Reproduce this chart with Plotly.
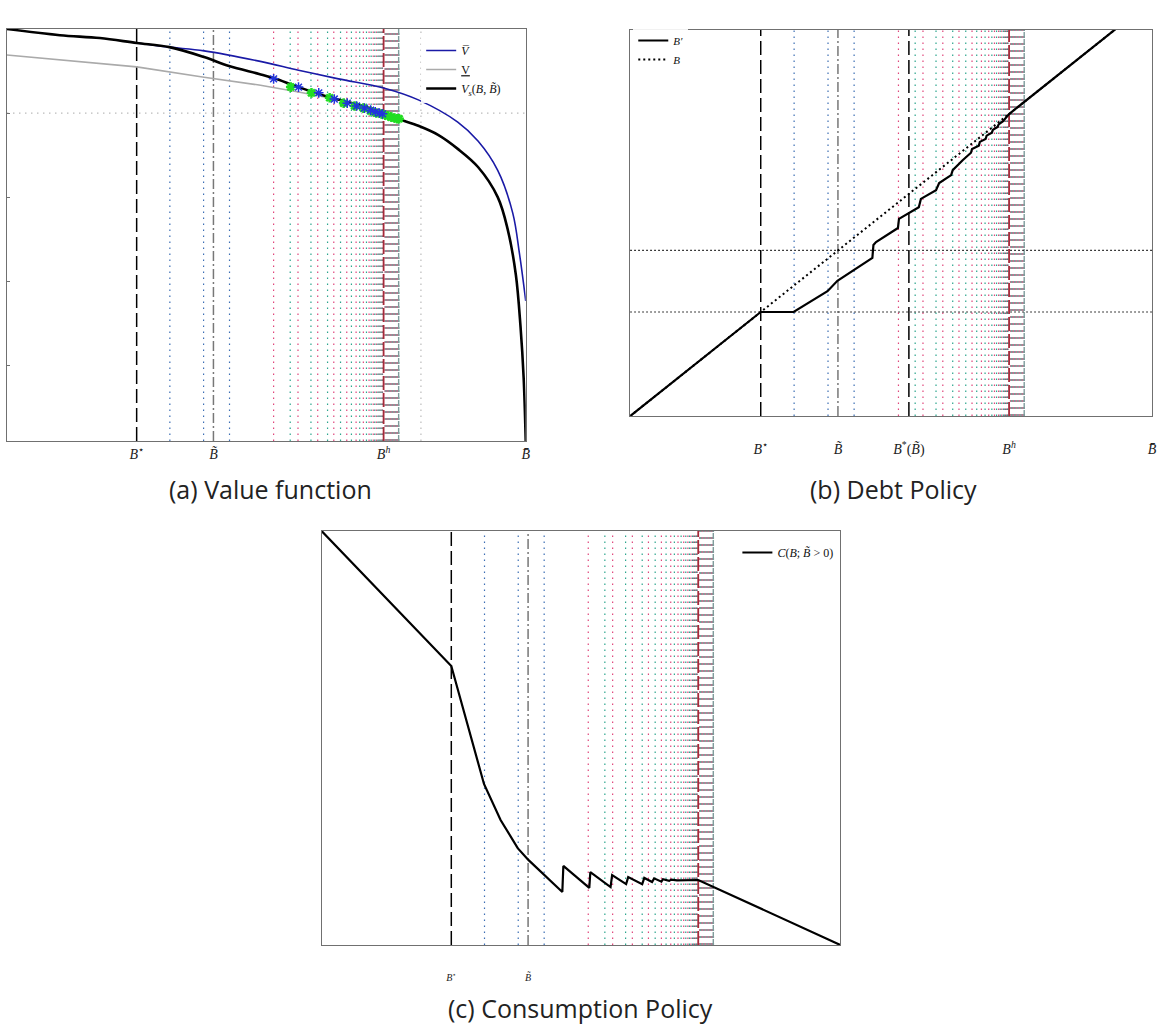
import plotly.graph_objects as go

# ---------------- key debt levels (B in units: 0 = lower bound, 100 = B_bar)
B_star = 25.0
B_tilde = 39.8
B_star_of_tilde = 53.4
B_h = 72.6
B_bar = 100.0

# vertical reference lines (iterates of the debt policy)
vl_blue = [31.4, 37.9, 42.9]
vl_pink = [51.4, 56.1, 59.9, 63.0, 65.5, 67.3, 68.7, 69.8, 70.6, 71.2, 71.7, 72.1, 72.4]
vl_teal = [54.6, 58.6, 61.8, 64.3, 66.4, 68.0, 69.3, 70.2, 70.9, 71.5, 71.9, 72.3]
vl_comb = [72.9, 73.1, 73.3, 73.5, 73.7, 73.9, 74.1, 74.3, 74.5, 74.7, 74.9, 75.1, 75.3, 75.5]
vl_gray_a = [79.8]

# ---------------- (a) value functions
B_vs = [0.0, 10.2, 17.9, 25.0, 31.3, 38.0, 42.8, 48.6, 51.4, 56.2, 62.0, 67.8, 72.6, 75.4,
        79.3, 83.1, 86.9, 90.8, 94.6, 96.5, 98.1, 99.0, 99.6, 100.0]
V_s = [100.0, 98.5, 97.8, 96.6, 95.6, 93.2, 91.0, 89.1, 88.1, 85.9, 83.5, 81.6, 79.6, 78.2,
       76.5, 74.3, 70.9, 66.5, 59.2, 51.5, 40.3, 27.7, 15.3, 0.0]
B_vbar = [25.0, 31.3, 38.0, 48.6, 56.2, 63.9, 72.6, 79.3, 86.9, 90.8, 94.6, 97.5, 98.8, 100.0]
V_bar = [96.6, 95.6, 94.7, 92.2, 90.0, 87.9, 85.7, 82.8, 77.4, 72.8, 65.7, 55.3, 45.4, 34.0]
B_vlow = [0.0, 10.2, 25.0, 38.0, 48.6, 56.2, 62.0]
V_low = [93.7, 92.5, 90.8, 88.3, 86.4, 84.7, 83.3]

star_blue_B = [51.4, 56.2, 60.1, 63.1, 65.6, 67.4, 68.9, 70.1, 71.0, 71.8, 72.4]
star_blue_V = [87.9, 85.9, 84.5, 83.0, 82.0, 81.3, 80.8, 80.3, 79.9, 79.6, 79.4]
star_green_B = [54.7, 58.7, 62.2, 64.9, 67.0, 68.7, 70.1, 71.2, 72.2, 72.9, 73.5, 74.1, 74.7, 75.2, 75.6]
star_green_V = [85.9, 84.5, 83.3, 82.0, 81.3, 80.8, 80.1, 79.6, 79.4, 79.1, 78.9, 78.6, 78.4, 78.2, 78.2]
V_at_Bh = 79.6
a_yticks = [79.6, 59.2, 38.8, 18.4]

# ---------------- (b) debt policy
B_pol = [0.0, 25.0, 31.3, 37.8, 39.7, 46.4, 46.6, 47.1, 51.3, 51.5, 55.3, 55.7, 58.6, 59.2, 61.5,
         61.8, 63.7, 65.3, 65.5, 66.8, 67.0, 68.1, 68.3, 69.3, 69.5, 70.4, 70.6, 71.4, 72.6, 100.0]
Bprime = [0.0, 25.0, 25.0, 30.0, 32.5, 38.0, 41.1, 41.8, 45.2, 47.4, 50.2, 52.2, 54.3, 56.0, 57.9,
          59.1, 61.5, 63.3, 64.2, 65.0, 65.9, 66.6, 67.4, 68.1, 68.8, 69.5, 70.1, 70.8, 72.6, 100.0]
diag_B = [0.0, 100.0]
diag_Bp = [0.0, 100.0]

# ---------------- (c) consumption policy
B_c = [0.0, 25.0, 31.3, 34.5, 37.8, 39.9, 46.4, 46.6, 51.6, 51.8, 55.7, 56.0, 58.7, 59.1,
       61.8, 62.2, 63.7, 64.1, 65.5, 65.8, 67.0, 67.4, 68.5, 72.6, 100.0]
C_pol = [100.0, 67.4, 38.9, 30.2, 23.4, 20.5, 12.8, 19.1, 13.8, 17.6, 14.0, 16.9, 14.7, 16.4,
         14.7, 16.2, 15.2, 16.1, 15.3, 15.9, 15.5, 15.8, 15.6, 15.7, 0.0]

# ---------------- styles
PINK = "#e0457b"
TEAL = "#2ca58d"
BLUED = "#3c6eb4"
REDD = "#a52a3a"
COMB = ["#c9708f", "#6fa89a", "#a08595"]
FRAME = "#707070"
SERIF = "Liberation Serif, DejaVu Serif, serif"
SANS = "Open Sans, Noto Sans, sans-serif"
DOT = "1.5px,4.5px"

W = 1164
H = 1026


def X(px):
    return min(1.0, max(0.0, px / W))


def Y(py):
    return min(1.0, max(0.0, 1 - py / H))


fig = go.Figure()

# panel a traces
fig.add_trace(go.Scatter(x=B_vbar, y=V_bar, mode="lines", line=dict(color="#1a1aa6", width=1.6, shape="spline"),
                         name="<i>V̅</i>", legend="legend", xaxis="x", yaxis="y"))
fig.add_trace(go.Scatter(x=B_vlow, y=V_low, mode="lines", line=dict(color="#aaaaaa", width=1.6),
                         name="<u>V</u>", legend="legend", xaxis="x", yaxis="y"))
fig.add_trace(go.Scatter(x=B_vs, y=V_s, mode="lines", line=dict(color="black", width=2.6, shape="spline"),
                         name="<i>V<sub>s</sub></i>(<i>B</i>, <i>B̃</i>)", legend="legend",
                         xaxis="x", yaxis="y"))
fig.add_trace(go.Scatter(x=star_green_B, y=star_green_V, mode="markers",
                         marker=dict(symbol="asterisk-open", size=8, color="#22dd22", line=dict(color="#22dd22", width=2.5)),
                         showlegend=False, xaxis="x", yaxis="y"))
fig.add_trace(go.Scatter(x=star_blue_B, y=star_blue_V, mode="markers",
                         marker=dict(symbol="asterisk-open", size=8, color="#2233dd", line=dict(color="#2233dd", width=1.5)),
                         showlegend=False, xaxis="x", yaxis="y"))

# panel b traces
fig.add_trace(go.Scatter(x=B_pol, y=Bprime, mode="lines", line=dict(color="black", width=2.2),
                         name="<i>B′</i>", legend="legend2", xaxis="x2", yaxis="y2"))
fig.add_trace(go.Scatter(x=diag_B, y=diag_Bp, mode="lines", line=dict(color="black", width=2, dash="2px,3px"),
                         name="<i>B</i>", legend="legend2", xaxis="x2", yaxis="y2"))

# panel c traces
fig.add_trace(go.Scatter(x=B_c, y=C_pol, mode="lines", line=dict(color="black", width=2.2),
                         name="<i>C</i>(<i>B</i>; <i>B̃</i> > 0)", legend="legend3", xaxis="x3", yaxis="y3"))

shapes = []


def vline(x, color, dash, width, ax):
    shapes.append(dict(type="line", xref="x" + ax, yref=("y" + ax) + " domain", x0=x, x1=x, y0=0, y1=1,
                       line=dict(color=color, dash=dash, width=width), layer="below"))


def hline(y, color, dash, width, ax):
    shapes.append(dict(type="line", xref=("x" + ax) + " domain", yref="y" + ax, x0=0, x1=1, y0=y, y1=y,
                       line=dict(color=color, dash=dash, width=width), layer="below"))


for ax in ["", "2", "3"]:
    for v in vl_blue:
        vline(v, BLUED, DOT, 1.2, ax)
    for v in vl_pink:
        vline(v, PINK, DOT, 1.2, ax)
    for v in vl_teal:
        vline(v, TEAL, DOT, 1.2, ax)
    for i, v in enumerate(vl_comb):
        vline(v, COMB[i % 3], "2px,5px", 1.6, ax)
    vline(vl_comb[-1], "#7f9c9c", "6px,1px", 1.4, ax)
    vline(B_star, "black", "14px,5px", 1.5, ax)
    vline(B_tilde, "#777777", "10px,3px,2px,3px", 1.5, ax)
    vline(B_h, REDD, "14px,3px", 1.8, ax)

for v in vl_gray_a:
    vline(v, "#bbbbbb", DOT, 1.2, "")
hline(V_at_Bh, "#bbbbbb", DOT, 1.2, "")
vline(B_star_of_tilde, "black", "14px,5px", 1.5, "2")
hline(B_star, "black", "1.5px,2.5px", 1.2, "2")
hline(B_tilde, "black", "1.5px,2.5px", 1.2, "2")

axis_common = dict(showgrid=False, zeroline=False, showline=True, linecolor=FRAME, linewidth=1, mirror=True)
tick_font = dict(family=SERIF, size=14, color="#222")
leg_font = dict(family=SERIF, size=12, color="#111")
cap_font = dict(family=SANS, size=25, color="#222")

fig.update_layout(
    width=W, height=H, autosize=False,
    margin=dict(l=0, r=0, t=0, b=0),
    paper_bgcolor="white", plot_bgcolor="white",
    shapes=shapes,
    xaxis=dict(domain=[X(7), X(528)], range=[0, 100], tickvals=[B_star, B_tilde, B_h, B_bar],
               ticktext=["<i>B</i><sup>⋆</sup>", "<i>B̃</i>", "<i>B</i><sup><i>h</i></sup>", "<i>B̄</i>"],
               ticks="", tickfont=tick_font, ticklabelstandoff=0, **axis_common),
    yaxis=dict(domain=[Y(441), Y(29)], range=[0, 100], tickvals=a_yticks,
               ticktext=["", "", "", ""], ticks="inside", ticklen=3, tickcolor=FRAME, **axis_common),
    xaxis2=dict(domain=[X(633), X(1157)], range=[0, 100],
                tickvals=[B_star, B_tilde, B_star_of_tilde, B_h, B_bar],
                ticktext=["<i>B</i><sup>⋆</sup>", "<i>B̃</i>", "<i>B</i><sup>*</sup>(<i>B̃</i>)",
                          "<i>B</i><sup><i>h</i></sup>", "<i>B̄</i>"],
                ticks="", tickfont=tick_font, ticklabelstandoff=20,
                anchor="y2", **axis_common),
    yaxis2=dict(domain=[Y(416), Y(30)], range=[0, 92.8], showticklabels=False,
                anchor="x2", **axis_common),
    xaxis3=dict(domain=[X(323), X(844)], range=[0, 100], tickvals=[B_star, B_tilde],
                ticktext=["<i>B</i><sup>⋆</sup>", "<i>B̃</i>"], ticks="",
                tickfont=dict(family=SERIF, size=10, color="#222"), ticklabelstandoff=23,
                anchor="y3", **axis_common),
    yaxis3=dict(domain=[Y(945), Y(531)], range=[0, 100], showticklabels=False,
                anchor="x3", **axis_common),
    legend=dict(x=X(423), y=Y(36), xanchor="left", yanchor="top", bgcolor="rgba(255,255,255,0.9)",
                font=leg_font, itemwidth=30, tracegroupgap=0),
    legend2=dict(x=X(636), y=Y(26), xanchor="left", yanchor="top", bgcolor="rgba(255,255,255,0.9)",
                 font=dict(family=SERIF, size=11, color="#111"), itemwidth=30, tracegroupgap=0),
    legend3=dict(x=X(842), y=Y(538), xanchor="right", yanchor="top", bgcolor="rgba(255,255,255,0.9)",
                 font=leg_font, itemwidth=30),
    annotations=[
        dict(text="(a) Value function", xref="paper", yref="paper", x=X(272), y=Y(489),
             xanchor="center", yanchor="middle", showarrow=False, font=cap_font),
        dict(text="(b) Debt Policy", xref="paper", yref="paper", x=X(897), y=Y(489),
             xanchor="center", yanchor="middle", showarrow=False, font=cap_font),
        dict(text="(c) Consumption Policy", xref="paper", yref="paper", x=X(583), y=Y(1008),
             xanchor="center", yanchor="middle", showarrow=False, font=cap_font),
    ],
)

fig.write_html("out.html", config={"displayModeBar": False},
               post_script="document.body.style.margin='0px';")
